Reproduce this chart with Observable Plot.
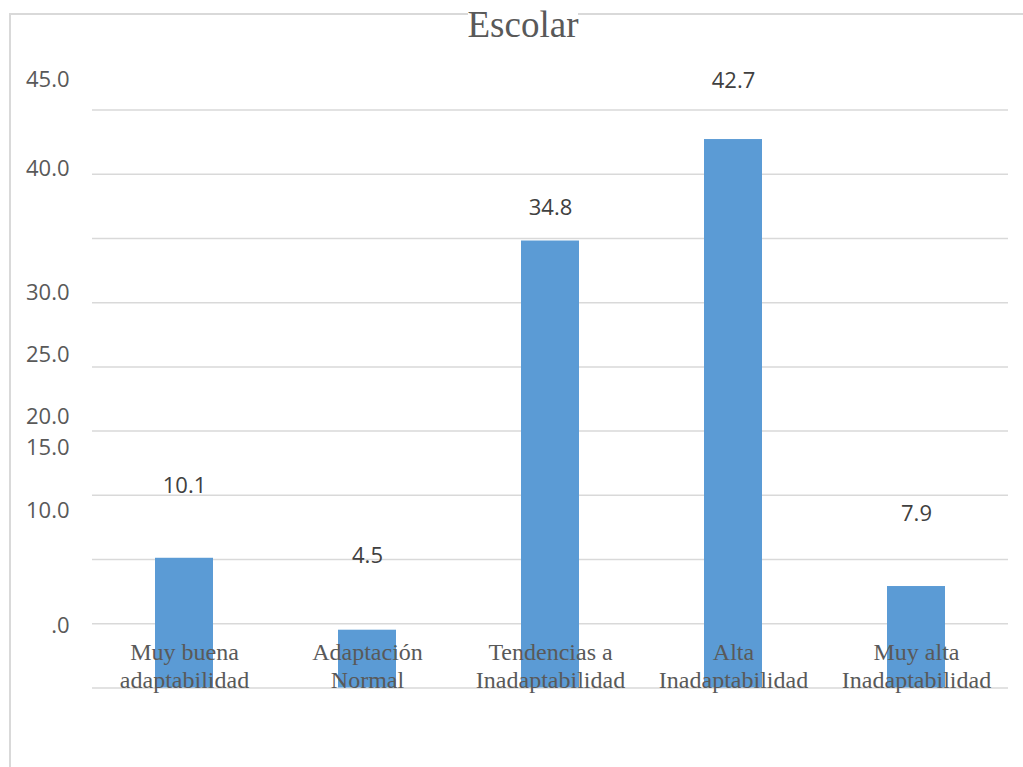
<!DOCTYPE html>
<html>
<head>
<meta charset="utf-8">
<script src="https://cdn.jsdelivr.net/npm/d3@7"></script>
<script src="https://cdn.jsdelivr.net/npm/@observablehq/plot@0.6"></script>
<style>
  body { margin: 0; background: #fff; }
  #wrap { position: relative; width: 1023px; height: 767px; overflow: hidden; background: #fff; }
  #chart { position: absolute; left: 0; top: 0; }
  #box { position: absolute; left: 9px; top: 13px; width: 1100px; height: 900px; border: 2px solid #d9d9d9; box-sizing: border-box; pointer-events: none; }
  #title { position: absolute; left: 10px; width: 1026px; top: 3px; text-align: center; line-height: 37px; }
  #title span { font: 37px "Liberation Serif", "Times New Roman", serif; color: #595959; background: #fff; }
</style>
</head>
<body>
<div id="wrap">
  <div id="chart"></div>
  <div id="box"></div>
  <div id="title"><span>Escolar</span></div>
</div>
<script>
// ---- data ----
const categories = ["Muy buena adaptabilidad", "Adaptación Normal", "Tendencias a Inadaptabilidad", "Alta Inadaptabilidad", "Muy alta Inadaptabilidad"];
const categoryLines = ["Muy buena\nadaptabilidad", "Adaptación\nNormal", "Tendencias a\nInadaptabilidad", "Alta\nInadaptabilidad", "Muy alta\nInadaptabilidad"];
const values = [10.1, 4.5, 34.8, 42.7, 7.9];
const valueLabels = ["10.1", "4.5", "34.8", "42.7", "7.9"];
const gridValues = [0, 5, 10, 15, 20, 25, 30, 35, 40, 45];
const tickValues = [45, 40, 30, 25, 20, 15, 10, 0];
const tickLabels = ["45.0", "40.0", "30.0", "25.0", "20.0", "15.0", "10.0", ".0"];

// ---- layout nudges (label offsets as drawn in the original) ----
const tickNudge = [-23.5, 2, -2.5, -5, -7, -40.5, -41.5, -55.5];
const valueNudge = [-65.6, -67.6, -26.5, -51.3, -66];

const rows = categories.map((c, i) => ({cat: c, v: values[i], lines: categoryLines[i], lab: valueLabels[i]}));
const numFont = '"Open Sans", "Liberation Sans", sans-serif';

const marks = [
  Plot.ruleY(gridValues, {stroke: "#d9d9d9", strokeWidth: 1.5}),
  Plot.barY(rows, {x: "cat", y: "v", fill: "#5b9bd5"}),
  Plot.text(rows, {x: "cat", y: () => 0, text: "lines", lineAnchor: "bottom", lineHeight: 28 / 24,
    fontFamily: '"Liberation Serif", "Times New Roman", serif', fontSize: 24, fill: "#595959"})
];
rows.forEach((r, i) => {
  marks.push(Plot.text([r], {x: "cat", y: "v", text: "lab", lineAnchor: "bottom", dy: valueNudge[i],
    fontFamily: numFont, fontSize: 22, fill: "#404040"}));
});
tickValues.forEach((t, i) => {
  marks.push(Plot.text([t], {y: d => d, text: () => tickLabels[i], frameAnchor: "left", textAnchor: "end",
    lineAnchor: "bottom", dx: -23, dy: tickNudge[i], fontFamily: numFont, fontSize: 22, fill: "#595959"}));
});

const chart = Plot.plot({
  width: 1023,
  height: 767,
  marginLeft: 92,
  marginRight: 15,
  marginTop: 109.5,
  marginBottom: 79.5,
  x: {domain: categories, paddingInner: 0.685, paddingOuter: 0.3425, axis: null},
  y: {domain: [0, 45], axis: null},
  style: {background: "transparent", overflow: "visible"},
  marks
});
document.getElementById("chart").appendChild(chart);
</script>
</body>
</html>
